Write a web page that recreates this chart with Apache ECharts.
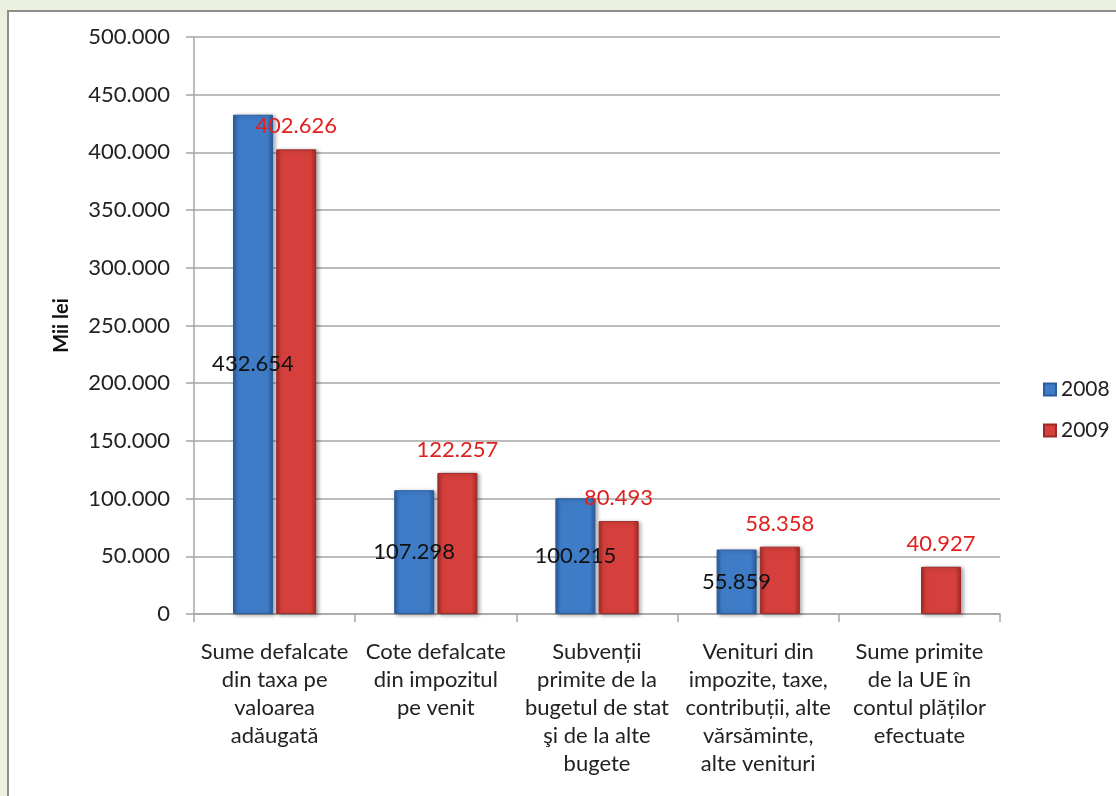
<!DOCTYPE html>
<html>
<head>
<meta charset="utf-8">
<script src="https://cdn.jsdelivr.net/npm/echarts@6/dist/echarts.min.js"></script>
<style>
  html, body { margin: 0; padding: 0; background: #ebf1de; overflow: hidden; }
  #panel { position: absolute; left: 7px; top: 10px; width: 1200px; height: 900px;
           background: #fff; border-left: 2px solid #8e8e8e; border-top: 2px solid #8e8e8e; }
  #chart-container { position: absolute; left: 0; top: 0; width: 1116px; height: 796px; }
</style>
</head>
<body>
<div id="panel"></div>
<div id="chart-container"></div>
<script>
var dom = document.getElementById("chart-container");
var myChart = echarts.init(dom, null, { renderer: "canvas" });

const categories = [
  "Sume defalcate\ndin taxa pe\nvaloarea\nadăugată",
  "Cote defalcate\ndin impozitul\npe venit",
  "Subvenții\nprimite de la\nbugetul de stat\nşi de la alte\nbugete",
  "Venituri din\nimpozite, taxe,\ncontribuții, alte\nvărsăminte,\nalte venituri",
  "Sume primite\nde la UE în\ncontul plăților\nefectuate",
];
const values2008 = [432654, 107298, 100215, 55859, null];
const values2009 = [402626, 122257, 80493, 58358, 40927];
const yTicks = [0, 50000, 100000, 150000, 200000, 250000, 300000, 350000, 400000, 450000, 500000];

function fmt(v) {
  return String(v).replace(/\B(?=(\d{3})+(?!\d))/g, ".");
}

function barGrad(dark, light) {
  return new echarts.graphic.LinearGradient(0, 0, 1, 0, [
    { offset: 0, color: dark },
    { offset: 0.12, color: light },
    { offset: 0.85, color: light },
    { offset: 1, color: dark },
  ]);
}

var font = "Lato, 'Open Sans', sans-serif";

var option = {
  animation: false,
  textStyle: { fontFamily: font },
  grid: { left: 194, right: 116, top: 37, bottom: 182 },
  legend: {
    orient: "vertical",
    left: 1038,
    top: 374,
    itemWidth: 12,
    itemHeight: 12,
    itemGap: 20,
    icon: "rect",
    textStyle: { fontSize: 21, color: "#222", fontFamily: font },
    data: ["2008", "2009"],
  },
  xAxis: {
    type: "category",
    data: categories,
    axisLine: { lineStyle: { color: "#a6a6a6", width: 1.5 } },
    axisTick: { show: true, length: 8, lineStyle: { color: "#a6a6a6", width: 1.5 } },
    axisLabel: {
      interval: 0,
      margin: 24,
      fontSize: 22,
      lineHeight: 28,
      color: "#222",
      fontFamily: font,
    },
  },
  yAxis: {
    type: "value",
    min: yTicks[0],
    max: yTicks[yTicks.length - 1],
    interval: yTicks[1] - yTicks[0],
    name: "Mii lei",
    nameLocation: "middle",
    nameRotate: 90,
    nameGap: 122,
    nameTextStyle: { fontSize: 20, fontWeight: "bold", color: "#111", fontFamily: font },
    axisLine: { show: true, lineStyle: { color: "#a6a6a6", width: 1.5 } },
    axisTick: { show: true, length: 8, lineStyle: { color: "#a6a6a6", width: 1.5 } },
    splitLine: { lineStyle: { color: "#a6a6a6", width: 1.5 } },
    axisLabel: {
      margin: 24,
      fontSize: 22,
      color: "#222",
      fontFamily: font,
      formatter: fmt,
    },
  },
  series: [
    {
      name: "2008",
      type: "bar",
      data: values2008,
      barWidth: 40,
      barGap: "8%",
      itemStyle: {
        color: barGrad("#2a5a9c", "#3f7cc8"),
        borderColor: "#2b5d9e",
        borderWidth: 1,
        shadowColor: "rgba(0,0,0,0.35)",
        shadowBlur: 4,
        shadowOffsetX: 2,
        shadowOffsetY: 1,
      },
      label: {
        show: true,
        position: "inside",
        color: "#111",
        fontSize: 22,
        fontFamily: font,
        formatter: function (p) { return fmt(p.value); },
      },
    },
    {
      name: "2009",
      type: "bar",
      data: values2009,
      barWidth: 40,
      itemStyle: {
        color: barGrad("#a52a27", "#d6403c"),
        borderColor: "#9c2a27",
        borderWidth: 1,
        shadowColor: "rgba(0,0,0,0.35)",
        shadowBlur: 4,
        shadowOffsetX: 2,
        shadowOffsetY: 1,
      },
      label: {
        show: true,
        position: "top",
        distance: 12,
        color: "#e0201f",
        fontSize: 22,
        fontFamily: font,
        formatter: function (p) { return fmt(p.value); },
      },
    },
  ],
};

myChart.setOption(option);
window.addEventListener("resize", myChart.resize);
</script>
</body>
</html>
